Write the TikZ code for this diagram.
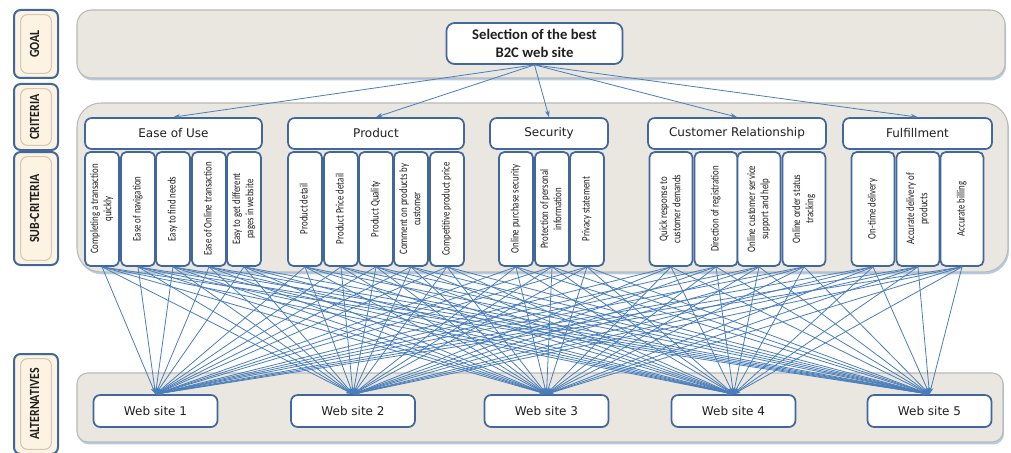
\documentclass[tikz,border=0pt]{standalone}
\usepackage{fontspec}
\setmainfont{DejaVu Sans}
\newfontfamily\calfont{Carlito}
\newfontfamily\condfont[FakeStretch=0.78]{Carlito}
\newfontfamily\tierfont[FakeStretch=0.85]{Carlito}
\usepackage{xcolor}
\usepackage{tikz}
\usetikzlibrary{arrows.meta, shadows}

\definecolor{edgeblue}{HTML}{41679C}
\definecolor{lineblue}{HTML}{4A7EBB}
\definecolor{panelfill}{HTML}{E9E7DF}
\definecolor{labelfill}{HTML}{FDF3E2}
\definecolor{labelrim}{HTML}{D5C7B5}
\definecolor{textgray}{HTML}{1F1F1F}

\newcommand{\vtext}[1]{\rotatebox{90}{\begin{tabular}{@{}c@{}}#1\end{tabular}}}

\begin{document}
\begin{tikzpicture}[
    x=0.75pt, y=-0.75pt,
    panel/.style={draw=gray!55, fill=panelfill, line width=0.8pt, drop shadow={shadow xshift=0.8pt, shadow yshift=-1.8pt, fill=lineblue!80}},
    tier/.style={rectangle, rounded corners=5pt, draw=edgeblue, line width=1.5pt, fill=labelfill, minimum width=33pt, inner sep=0pt, text=textgray, font=\tierfont\bfseries\fontsize{10.5}{12}\selectfont,
        path picture={\draw[labelrim, line width=0.8pt] ([shift={(5pt,-3.5pt)}]path picture bounding box.north west) rectangle ([shift={(-5pt,3.5pt)}]path picture bounding box.south east);}},
    goalbox/.style={rectangle, rounded corners=6pt, draw=edgeblue, line width=1.3pt, fill=white, minimum width=132pt, minimum height=30.75pt, align=center, text=textgray, font=\calfont\bfseries\fontsize{11}{13}\selectfont},
    criterion/.style={rectangle, rounded corners=5pt, draw=edgeblue, line width=1.3pt, fill=white, minimum height=23.25pt, text=textgray, font=\fontsize{9}{11}\selectfont},
    subcrit/.style={rectangle, rounded corners=4pt, draw=edgeblue, line width=1.3pt, fill=white, minimum height=85.5pt, inner sep=1pt, text=textgray, font=\condfont\fontsize{8.5}{10}\selectfont},
    site/.style={rectangle, rounded corners=5pt, draw=edgeblue, line width=1.3pt, fill=white, minimum width=93pt, minimum height=24pt, text=textgray, font=\fontsize{9}{11}\selectfont},
    flow/.style={-{Stealth[length=5pt, width=3.5pt]}, draw=lineblue, line width=0.6pt}
]
\useasboundingbox (0,0) rectangle (1011,453);

% Level panels
\draw[panel, rounded corners=11pt] (77,10) rectangle (1005,78);
\draw[panel, rounded corners=18pt] (77,103) rectangle (1008,272);
\draw[panel, rounded corners=8pt] (77,373) rectangle (1003,442);

% Level labels
\node[tier, minimum height=51pt] (goaltier) at (36,44) {\vtext{GOAL}};
\node[tier, minimum height=49.5pt] (crittier) at (36,117) {\vtext{CRITERIA}};
\node[tier, minimum height=84.75pt] (subtier) at (36,208.5) {\vtext{SUB-CRITERIA}};
\node[tier, minimum height=75pt] (alttier) at (36,404) {\vtext{ALTERNATIVES}};

% Goal
\node[goalbox] (goal) at (534.5,43.5) {Selection of the best\\B2C web site};

% Criteria
\node[criterion, minimum width=132.75pt] (ease) at (173.5,133.5) {Ease of Use};
\node[criterion, minimum width=132pt] (product) at (376,133.5) {Product};
\node[criterion, minimum width=88.5pt] (security) at (549,133.5) {Security};
\node[criterion, minimum width=133.5pt] (customer) at (737,133.5) {Customer Relationship};
\node[criterion, minimum width=111.75pt] (fulfil) at (917.5,133.5) {Fulfillment};

% Sub-criteria: ease of use
\node[subcrit, minimum width=25.5pt] (e1) at (102,209) {\vtext{Completing a transaction\\quickly}};
\node[subcrit, minimum width=25.5pt] (e2) at (138,209) {\vtext{Ease of navigation}};
\node[subcrit, minimum width=25.5pt] (e3) at (173,209) {\vtext{Easy to find needs}};
\node[subcrit, minimum width=25.5pt] (e4) at (209,209) {\vtext{Ease of Online transaction}};
\node[subcrit, minimum width=25.5pt] (e5) at (244,209) {\vtext{Easy to get different\\pages in website}};

% Sub-criteria: product
\node[subcrit, minimum width=25.5pt] (p1) at (305,209) {\vtext{Product detail}};
\node[subcrit, minimum width=25.5pt] (p2) at (341,209) {\vtext{Product Price detail}};
\node[subcrit, minimum width=25.5pt] (p3) at (376,209) {\vtext{Product Quality}};
\node[subcrit, minimum width=25.5pt] (p4) at (411,209) {\vtext{Comment on products by\\customer}};
\node[subcrit, minimum width=25.5pt] (p5) at (447,209) {\vtext{Competitive product price}};

% Sub-criteria: security
\node[subcrit, minimum width=25.5pt] (s1) at (516,209) {\vtext{Online purchase security}};
\node[subcrit, minimum width=25.5pt] (s2) at (552,209) {\vtext{Protection of personal\\information}};
\node[subcrit, minimum width=25.5pt] (s3) at (587,209) {\vtext{Privacy statement}};

% Sub-criteria: customer relationship
\node[subcrit, minimum width=32.25pt] (c1) at (671,209) {\vtext{Quick response to\\customer demands}};
\node[subcrit, minimum width=32.25pt] (c2) at (716,209) {\vtext{Direction of registration}};
\node[subcrit, minimum width=32.25pt] (c3) at (759,209) {\vtext{Online customer service\\support and help}};
\node[subcrit, minimum width=32.25pt] (c4) at (804,209) {\vtext{Online order status\\tracking}};

% Sub-criteria: fulfillment
\node[subcrit, minimum width=32.25pt] (f1) at (873,209) {\vtext{On-time delivery}};
\node[subcrit, minimum width=32.25pt] (f2) at (918,209) {\vtext{Accurate delivery of\\products}};
\node[subcrit, minimum width=32.25pt] (f3) at (962,209) {\vtext{Accurate billing}};

% Alternatives
\node[site] (w1) at (155.5,411) {Web site 1};
\node[site] (w2) at (353,411) {Web site 2};
\node[site] (w3) at (546.5,411) {Web site 3};
\node[site] (w4) at (733.5,411) {Web site 4};
\node[site] (w5) at (929.5,411) {Web site 5};

% Goal to criteria
\foreach \c in {ease, product, security, customer, fulfil}
    \draw[flow] (goal.south) -- (\c.north);

% Sub-criteria to alternatives
\foreach \s in {e1,e2,e3,e4,e5,p1,p2,p3,p4,p5,s1,s2,s3,c1,c2,c3,c4,f1,f2,f3}
    \foreach \w in {w1,w2,w3,w4,w5}
        \draw[flow] (\s.south) -- (\w.north);

\end{tikzpicture}
\end{document}
